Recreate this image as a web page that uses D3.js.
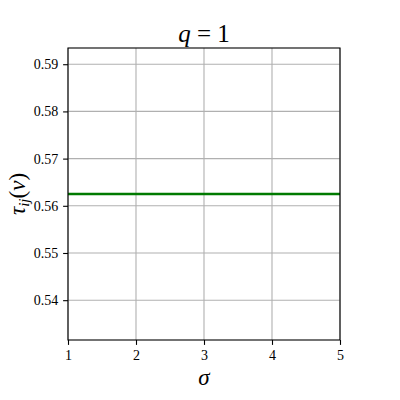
<!DOCTYPE html>
<html>
<head>
<meta charset="utf-8">
<script src="https://cdn.jsdelivr.net/npm/d3@7"></script>
<style>
  body { margin: 0; background: #fff; }
</style>
</head>
<body>
<div id="chart"></div>
<script>
var sigma = [1, 2, 3, 4, 5];
var tau = [0.5625, 0.5625, 0.5625, 0.5625, 0.5625];
var xTicks = [1, 2, 3, 4, 5];
var yTicks = [0.54, 0.55, 0.56, 0.57, 0.58, 0.59];

var serif = "'Liberation Serif', 'Times New Roman', Times, serif";
var width = 400, height = 400,
    margin = {top: 48, right: 60, bottom: 60, left: 68};

var svg = d3.select("#chart").append("svg").attr("width", width).attr("height", height)
    .attr("font-family", serif);

var x = d3.scaleLinear().domain([1, 5]).range([margin.left, width - margin.right]);
var yMid = 0.5625, yHalf = 0.0309375;
var y = d3.scaleLinear().domain([yMid - yHalf, yMid + yHalf]).range([height - margin.bottom, margin.top]);

// grid
svg.append("g").selectAll("line").data(xTicks).enter().append("line")
    .attr("x1", d => x(d)).attr("x2", d => x(d))
    .attr("y1", margin.top).attr("y2", height - margin.bottom)
    .attr("stroke", "#b0b0b0").attr("stroke-width", 1.1);
svg.append("g").selectAll("line").data(yTicks).enter().append("line")
    .attr("y1", d => y(d)).attr("y2", d => y(d))
    .attr("x1", margin.left).attr("x2", width - margin.right)
    .attr("stroke", "#b0b0b0").attr("stroke-width", 1.1);

// data line
var line = d3.line().x((d, i) => x(sigma[i])).y(d => y(d));
svg.append("path").datum(tau)
    .attr("d", line)
    .attr("fill", "none")
    .attr("stroke", "#007a00")
    .attr("stroke-width", 2.6);

// axes
var xAxis = d3.axisBottom(x).tickValues(xTicks).tickFormat(d3.format("d")).tickSizeOuter(0).tickSize(4.9).tickPadding(4.9);
var yAxis = d3.axisLeft(y).tickValues(yTicks).tickFormat(d3.format(".2f")).tickSizeOuter(0).tickSize(4.9).tickPadding(4.9);

var gx = svg.append("g").attr("transform", "translate(0," + (height - margin.bottom) + ")").call(xAxis);
var gy = svg.append("g").attr("transform", "translate(" + margin.left + ",0)").call(yAxis);
[gx, gy].forEach(g => {
    g.attr("font-family", serif).attr("font-size", 14);
    g.select(".domain").remove();
    g.selectAll("line").attr("stroke", "#000").attr("stroke-width", 1.1);
});

// frame
svg.append("rect")
    .attr("x", margin.left).attr("y", margin.top)
    .attr("width", width - margin.left - margin.right)
    .attr("height", height - margin.top - margin.bottom)
    .attr("fill", "none").attr("stroke", "#000").attr("stroke-width", 1.1);

// title
var title = svg.append("text")
    .attr("x", (margin.left + width - margin.right) / 2).attr("y", 42)
    .attr("text-anchor", "middle").attr("font-family", serif).attr("font-size", 25);
title.append("tspan").attr("font-style", "italic").text("q");
title.append("tspan").text(" = 1");

// x label
svg.append("text")
    .attr("x", (margin.left + width - margin.right) / 2).attr("y", 385)
    .attr("text-anchor", "middle").attr("font-family", serif).attr("font-size", 23).attr("font-style", "italic")
    .text("σ");

// y label
var yl = svg.append("text")
    .attr("transform", "translate(25," + ((margin.top + height - margin.bottom) / 2) + ") rotate(-90)")
    .attr("text-anchor", "middle").attr("font-family", serif).attr("font-size", 23);
yl.append("tspan").attr("font-style", "italic").text("τ");
yl.append("tspan").attr("font-style", "italic").attr("font-size", 15).attr("dy", 4).text("ij");
yl.append("tspan").attr("dy", -4).text("(");
yl.append("tspan").attr("font-style", "italic").text("ν");
yl.append("tspan").text(")");
</script>
</body>
</html>
